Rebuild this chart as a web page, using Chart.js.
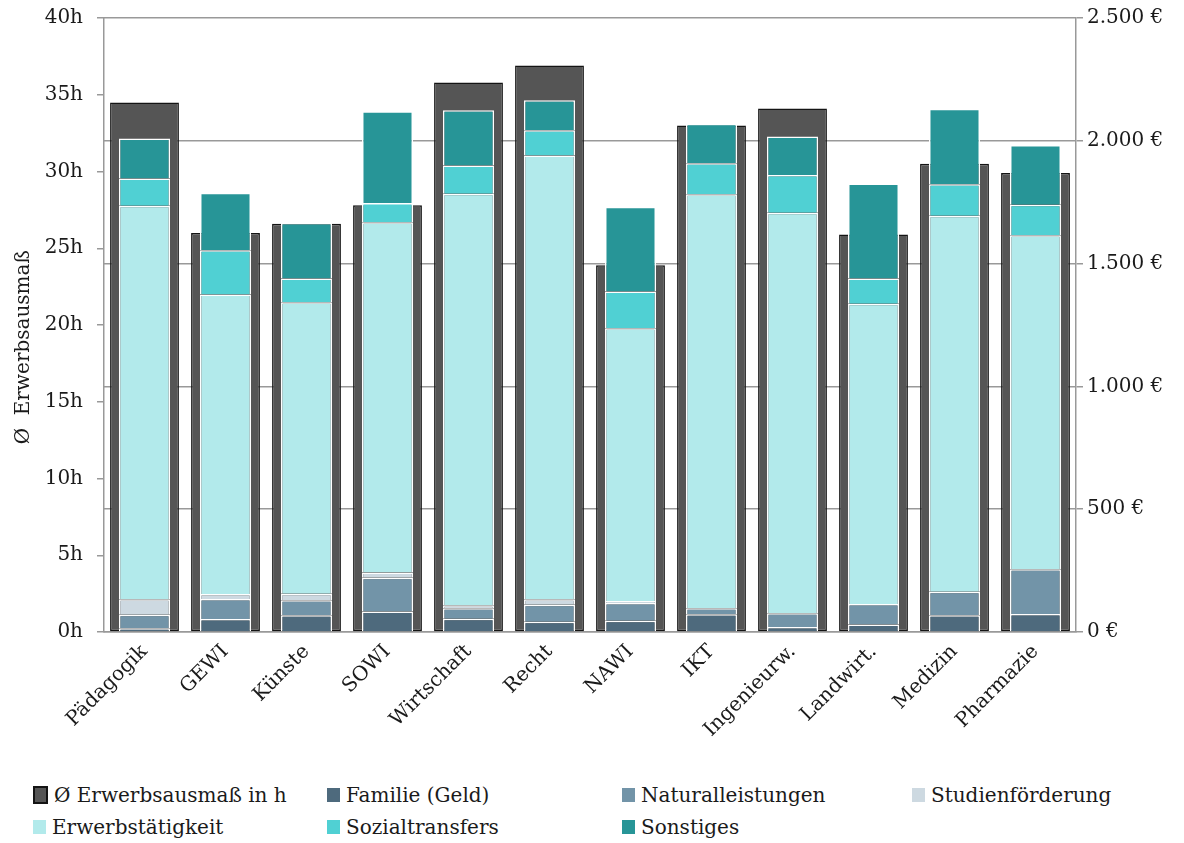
<!DOCTYPE html>
<html lang="de">
<head>
<meta charset="utf-8">
<script src="https://cdn.jsdelivr.net/npm/chart.js@4/dist/chart.umd.min.js"></script>
<style>
  body { margin: 0; background: #fff; font-family: "DejaVu Serif", serif; color: #1a1a1a; }
  #wrap { position: relative; width: 1184px; height: 843px; }
  #chart { position: absolute; left: 0; top: 0; }
  #legend {
    position: absolute; left: 33px; top: 779px;
    display: grid; grid-template-columns: 294px 295px 290px auto;
    grid-auto-rows: 32px; font-size: 20px;
  }
  .item { display: flex; align-items: center; white-space: nowrap; }
  .box { width: 13px; height: 14px; margin-right: 6px; box-sizing: border-box; }
</style>
</head>
<body>
<div id="wrap">
  <canvas id="chart" width="1184" height="775"></canvas>
  <div id="legend"></div>
</div>
<script>
const labels = ["Pädagogik", "GEWI", "Künste", "SOWI", "Wirtschaft", "Recht", "NAWI", "IKT", "Ingenieurw.", "Landwirt.", "Medizin", "Pharmazie"];

// average working hours per week (left axis)
const hours = [34.5, 26.0, 26.6, 27.8, 35.8, 36.9, 23.9, 33.0, 34.1, 25.9, 30.5, 29.9];

// monthly income by source in € (right axis, stacked)
const familie   = [15, 53, 68, 83, 54, 42, 46, 72, 20, 31, 68, 73];
const natural   = [55, 81, 61, 138, 43, 69, 72, 25, 56, 83, 96, 182];
const studien   = [63, 21, 27, 21, 12, 22, 8, 1, 0, 0, 0, 0];
const erwerb    = [1603, 1219, 1187, 1426, 1675, 1807, 1111, 1684, 1631, 1223, 1531, 1360];
const sozial    = [110, 180, 96, 79, 115, 103, 149, 127, 154, 102, 128, 125];
const sonstiges = [163, 234, 226, 373, 225, 122, 345, 160, 156, 387, 308, 243];

const hourTicks = [0, 5, 10, 15, 20, 25, 30, 35, 40];
const euroTicks = [0, 500, 1000, 1500, 2000, 2500];

const FONT = { family: "DejaVu Serif", size: 20 };
const TXT = "#1a1a1a";
const AXIS = "#999999";
const TOP = 18, BOTTOM = 632, LEFT = 104, RIGHT = 1076;

function euro(v) {
  return String(v).replace(/\B(?=(\d{3})+(?!\d))/g, ".") + " €";
}

function part(label, data, color) {
  return {
    label, data, yAxisID: "yE", stack: "geld", grouped: false, order: 0,
    backgroundColor: color, borderColor: "#ffffff", borderWidth: 1.5,
    barPercentage: 0.63, categoryPercentage: 1
  };
}

const datasets = [
  {
    label: "Ø Erwerbsausmaß in h", data: hours, yAxisID: "yH", grouped: false, order: 1,
    backgroundColor: "#555555", borderColor: "#141414", borderWidth: 1.5, borderSkipped: false,
    barPercentage: 0.85, categoryPercentage: 1
  },
  part("Familie (Geld)", familie, "#4e6a7d"),
  part("Naturalleistungen", natural, "#7294a8"),
  part("Studienförderung", studien, "#cdd9e1"),
  part("Erwerbstätigkeit", erwerb, "#b2eaeb"),
  part("Sozialtransfers", sozial, "#50d0d3"),
  part("Sonstiges", sonstiges, "#279597")
];

// pin the plot area to fixed edges
const fixArea = {
  id: "fixArea",
  afterLayout(c) {
    const a = c.chartArea;
    a.top = TOP; a.bottom = BOTTOM; a.left = LEFT; a.right = RIGHT;
    a.width = RIGHT - LEFT; a.height = BOTTOM - TOP;
    for (const id of ["yH", "yE"]) {
      const s = c.scales[id];
      s.top = TOP; s.bottom = BOTTOM; s.height = BOTTOM - TOP;
      s.configure();
    }
  }
};

const chart = new Chart(document.getElementById("chart"), {
  type: "bar",
  data: { labels, datasets },
  plugins: [fixArea],
  options: {
    responsive: false,
    animation: false,
    layout: { padding: { top: TOP, left: 0, right: 0, bottom: 0 } },
    plugins: { legend: { display: false }, tooltip: { enabled: false } },
    scales: {
      x: {
        grid: { display: false },
        border: { color: AXIS, width: 1.5 },
        ticks: { color: TXT, font: FONT, minRotation: 45, maxRotation: 45, padding: 0 },
        afterFit: s => { s.height = 775 - BOTTOM; }
      },
      yH: {
        position: "left", min: 0, max: 40,
        afterBuildTicks: s => { s.ticks = hourTicks.map(v => ({ value: v })); },
        ticks: { color: TXT, font: FONT, padding: 14, callback: v => v + "h" },
        grid: { drawOnChartArea: false, color: AXIS, tickLength: 7, lineWidth: 1.5 },
        border: { color: AXIS, width: 1.5 },
        title: { display: true, text: "Ø  Erwerbsausmaß       ", color: TXT, font: FONT, padding: { top: 12, bottom: 0 } },
        afterFit: s => { s.width = LEFT; }
      },
      yE: {
        position: "right", min: 0, max: 2500, stacked: true,
        afterBuildTicks: s => { s.ticks = euroTicks.map(v => ({ value: v })); },
        ticks: { color: TXT, font: FONT, padding: 4, callback: v => euro(v) },
        grid: { color: AXIS, tickLength: 7, lineWidth: 1.5 },
        border: { color: AXIS, width: 1.5 },
        afterFit: s => { s.width = 1184 - RIGHT; }
      }
    }
  }
});

// legend in four fixed columns below the chart
const legend = document.getElementById("legend");
chart.data.datasets.forEach((ds, i) => {
  const item = document.createElement("div");
  item.className = "item";
  const box = document.createElement("span");
  box.className = "box";
  box.style.background = ds.backgroundColor;
  if (i === 0) {
    box.style.border = "2px solid #141414";
    box.style.width = "15px";
    box.style.height = "18px";
  }
  item.appendChild(box);
  item.appendChild(document.createTextNode(ds.label));
  legend.appendChild(item);
});
</script>
</body>
</html>
